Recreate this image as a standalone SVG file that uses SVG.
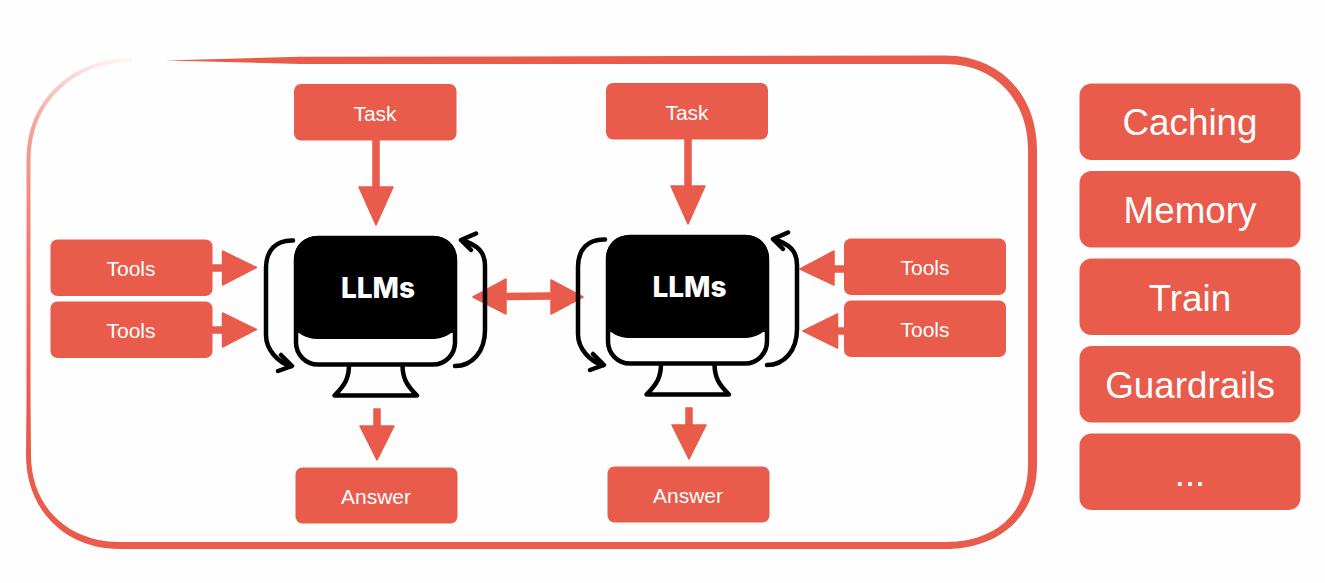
<svg xmlns="http://www.w3.org/2000/svg" xmlns:xlink="http://www.w3.org/1999/xlink" width="1325" height="583" viewBox="0 0 1325 583">
<style>
.box{fill:#e95b4a}
.red{fill:#e95b4a;stroke:#e95b4a;stroke-width:1.5;stroke-linejoin:round}
.s{font-family:"Liberation Sans",Arial,sans-serif;font-size:21px;fill:#fff;text-anchor:middle}
.b{font-family:"Liberation Sans",Arial,sans-serif;font-size:36.8px;fill:#fff;text-anchor:middle}
.llm{font-family:Inter,"Liberation Sans",sans-serif;font-size:28px;font-weight:800;fill:#fff;text-anchor:middle}
.k{fill:none;stroke:#000;stroke-width:4.500;stroke-linecap:round;stroke-linejoin:round}
</style>
<defs>
<linearGradient id="fade" gradientUnits="userSpaceOnUse" x1="130" y1="60" x2="28" y2="400">
<stop offset="0" stop-color="#e95b4a" stop-opacity="0.05"/>
<stop offset="0.25" stop-color="#e95b4a" stop-opacity="0.55"/>
<stop offset="0.6" stop-color="#e95b4a" stop-opacity="0.8"/>
<stop offset="1" stop-color="#e95b4a"/>
</linearGradient>
<g id="monitor">
<path class="k" d="M349,365 C349,378 345,385 334.500,395.500 L417,395.500 C406.500,385 402.500,378 402.500,365"/>
<rect x="296" y="238" width="159" height="126.500" rx="22" fill="#fff" stroke="#000" stroke-width="4.500"/>
<path fill="#000" d="M318,236 L433,236 C448,236 457,246 457,260 L457,333 L451,333 C445,337 440,339 430,339 L320,339 C310,339 305,337 299,333 L294,333 L294,260 C294,246 303,236 318,236 Z"/>
<path class="k" d="M293,240.500 C276,240 266,250 266,268 L266,335 C266,350 278,362 291,366.500 M281,355 L292,366 L278,371"/>
<path class="k" d="M455,366 C472,366 485,352 485,330 L485,266 C485,252 478,245 461,240 M476,233.500 L461,240 L471,250"/>
</g>
</defs>
<rect width="1325" height="583" fill="#fefefe"/>

<g id="frame">
<path fill="none" stroke="url(#fade)" stroke-width="4" d="M132,60 C72,60 28.500,102 28.500,160 L28.500,400"/>
<path fill="#e95b4a" d="M165,60.500 L300,56.800 L945,55.500 C1000,55.500 1037,95 1037,150 L1037,465 C1037,515 1000,549 945,549 L120,549 C65,549 26,510 26,455 L26.500,400 L30.500,400 L31,455 C31,507 68,542 120,542 L945,542 C997,542 1028,512 1028,465 L1028,150 C1028,100 995,64 945,64 L300,64 Z"/>
</g>

<g id="connectors">
<g id="task-llm-1"><rect class="red" x="373" y="140" width="6" height="47"/><path class="red" d="M359,187 L393,187 L376,225 Z"/></g>
<g id="task-llm-2"><rect class="red" x="685" y="139" width="6" height="47"/><path class="red" d="M671,186 L705,186 L688,224 Z"/></g>
<g id="tools-llm-1"><rect class="red" x="212" y="265" width="11" height="6"/><path class="red" d="M222.500,251 L256.500,267.500 L222.500,285 Z"/></g>
<g id="tools-llm-2"><rect class="red" x="212" y="327" width="11" height="6"/><path class="red" d="M222.500,313 L256.500,329.500 L222.500,347 Z"/></g>
<g id="tools-llm-3"><rect class="red" x="833" y="266" width="11" height="6"/><path class="red" d="M834,251 L800,269 L834,285 Z"/></g>
<g id="tools-llm-4"><rect class="red" x="836" y="328" width="8" height="6"/><path class="red" d="M837.500,314 L803,331 L837.500,348 Z"/></g>
<g id="llm-llm"><path class="red" d="M507,293.500 L550,293 L550,299 L507,299.500 Z"/><path class="red" d="M506,279 L473,297 L506,314 Z"/><path class="red" d="M551,280 L583,297 L551,314 Z"/></g>
<g id="llm-answer-1"><rect class="red" x="374" y="409" width="6" height="17"/><path class="red" d="M360,426 L394,426 L377,460 Z"/></g>
<g id="llm-answer-2"><rect class="red" x="686" y="408" width="6" height="17"/><path class="red" d="M672,425 L706,425 L689,459 Z"/></g>
</g>

<g id="task-1"><rect class="box" x="294" y="84" width="162.500" height="56.500" rx="7"/><text class="s" x="375" y="120.500">Task</text></g>
<g id="task-2"><rect class="box" x="606" y="83" width="162" height="56.500" rx="7"/><text class="s" x="687" y="119.500">Task</text></g>
<g id="tools-1"><rect class="box" x="50.500" y="239.500" width="162" height="56.500" rx="7"/><text class="s" x="131" y="276">Tools</text></g>
<g id="tools-2"><rect class="box" x="50.500" y="301.500" width="162" height="56.500" rx="7"/><text class="s" x="131" y="338">Tools</text></g>
<g id="tools-3"><rect class="box" x="844" y="238.500" width="162" height="56.500" rx="7"/><text class="s" x="925" y="275">Tools</text></g>
<g id="tools-4"><rect class="box" x="844" y="300.500" width="162" height="56.500" rx="7"/><text class="s" x="925" y="337">Tools</text></g>
<g id="answer-1"><rect class="box" x="295.500" y="467.500" width="162" height="56" rx="7"/><text class="s" x="376" y="504">Answer</text></g>
<g id="answer-2"><rect class="box" x="607.500" y="466.500" width="162" height="56" rx="7"/><text class="s" x="688" y="503">Answer</text></g>

<g id="llm-1"><use href="#monitor"/><text class="llm" x="378" y="298">LLMs</text></g>
<g id="llm-2"><use href="#monitor" transform="translate(312,-1)"/><text class="llm" x="689.500" y="297">LLMs</text></g>

<g id="caching"><rect class="box" x="1079.500" y="83.500" width="221" height="76.500" rx="12"/><text class="b" x="1190" y="135">Caching</text></g>
<g id="memory"><rect class="box" x="1079.500" y="171" width="221" height="76.500" rx="12"/><text class="b" x="1190" y="223">Memory</text></g>
<g id="train"><rect class="box" x="1079.500" y="258.500" width="221" height="76.500" rx="12"/><text class="b" x="1190" y="311">Train</text></g>
<g id="guardrails"><rect class="box" x="1079.500" y="346" width="221" height="76.500" rx="12"/><text class="b" x="1190" y="398">Guardrails</text></g>
<g id="more"><rect class="box" x="1079.500" y="433.500" width="221" height="76.500" rx="12"/><text class="b" x="1190" y="486">...</text></g>
</svg>
